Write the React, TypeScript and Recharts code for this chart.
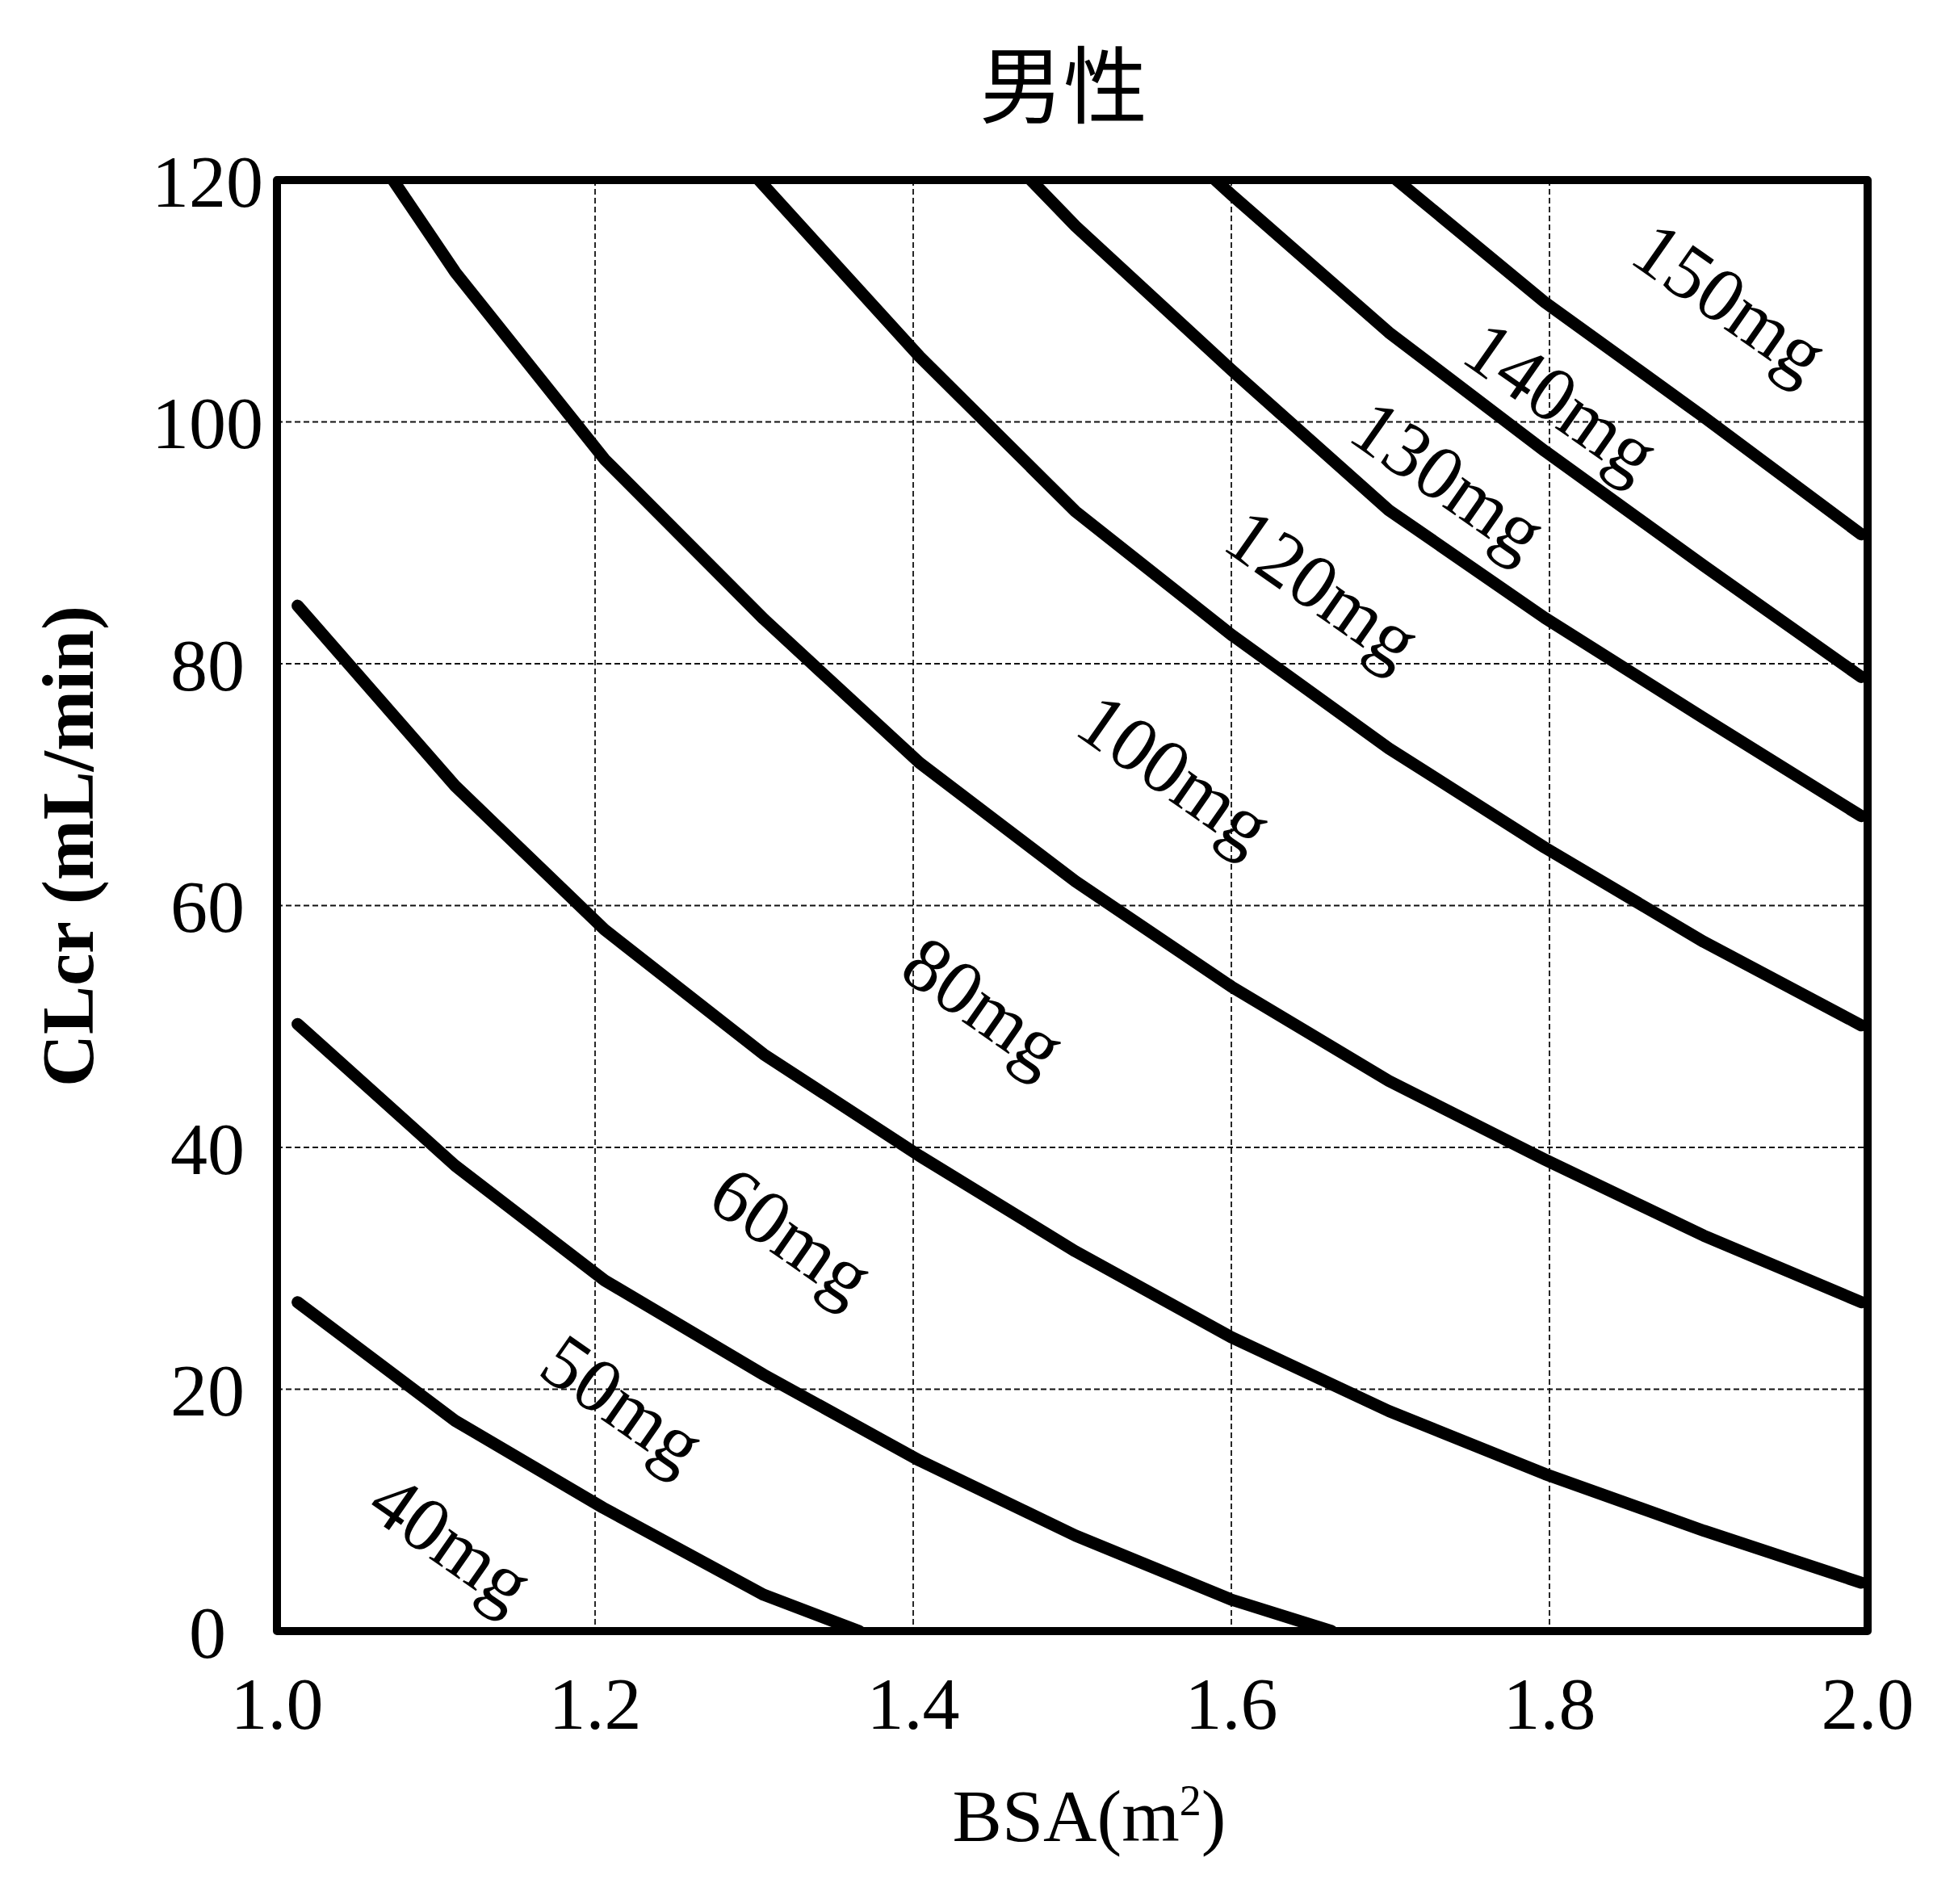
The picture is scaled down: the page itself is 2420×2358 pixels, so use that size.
import React from 'react';
import {
  ComposedChart,
  Line,
  Scatter,
  XAxis,
  YAxis,
  CartesianGrid,
  ReferenceArea,
} from 'recharts';

// ---- axis ticks ----
const bsaTicks = [1.0, 1.2, 1.4, 1.6, 1.8, 2.0];
const clcrTicks = [0, 20, 40, 60, 80, 100, 120];

// ---- dose boundary lines: [BSA (m2), CLcr (mL/min)] ----
const border40_50 = [[1.013, 27.2], [1.112, 17.4], [1.205, 10.2], [1.306, 3.0], [1.366, 0]];
const border50_60 = [[1.013, 50.2], [1.112, 38.5], [1.206, 29.0], [1.306, 21.2], [1.404, 14.1], [1.502, 7.9], [1.6, 2.6], [1.663, 0]];
const border60_80 = [[1.013, 84.8], [1.112, 69.9], [1.206, 58.0], [1.306, 47.7], [1.404, 39.3], [1.502, 31.4], [1.6, 24.3], [1.699, 18.2], [1.797, 13.0], [1.897, 8.3], [1.996, 4.0]];
const border80_100 = [[1.073, 120], [1.112, 112.4], [1.206, 96.9], [1.306, 83.7], [1.404, 71.8], [1.502, 62.0], [1.6, 53.3], [1.699, 45.5], [1.797, 39.0], [1.897, 32.7], [1.996, 27.2]];
const border100_120 = [[1.303, 120], [1.404, 105.4], [1.502, 92.6], [1.6, 82.4], [1.699, 73.0], [1.797, 64.8], [1.897, 57.0], [1.996, 50.1]];
const border120_130 = [[1.474, 120], [1.502, 116.2], [1.6, 104.3], [1.699, 92.7], [1.797, 83.8], [1.897, 75.5], [1.996, 67.4]];
const border130_140 = [[1.59, 120], [1.6, 118.8], [1.699, 107.4], [1.797, 97.6], [1.897, 88.1], [1.996, 78.9]];
const border140_150 = [[1.704, 120], [1.797, 109.9], [1.897, 100.4], [1.996, 90.7]];

// ---- dose region labels ----
const doseLabels = ['40mg', '50mg', '60mg', '80mg', '100mg', '120mg', '130mg', '140mg', '150mg'];
const labelBsa = [1.107, 1.215, 1.321, 1.442, 1.562, 1.655, 1.734, 1.805, 1.911];
const labelClcr = [6.9, 18.4, 32.3, 51.3, 70.5, 85.8, 94.8, 101.3, 109.5];

const toPoints = (arr: number[][]) => arr.map(([x, y]) => ({ x, y }));
const boundaries = [
  border40_50,
  border50_60,
  border60_80,
  border80_100,
  border100_120,
  border120_130,
  border130_140,
  border140_150,
].map(toPoints);
const labelData = doseLabels.map((text, i) => ({ x: labelBsa[i], y: labelClcr[i], text }));

const SERIF = '"Liberation Serif", "Times New Roman", serif';
const CJK = '"Noto Sans CJK JP", "Noto Sans CJK SC", sans-serif';

const DoseLabel = (props: any) => {
  const { cx, cy, payload } = props;
  if (cx == null || cy == null) return null;
  return (
    <text
      x={cx}
      y={cy}
      dy={-9}
      textAnchor="middle"
      dominantBaseline="central"
      fontFamily={SERIF}
      fontSize={96}
      fill="#000"
      transform={`rotate(35 ${cx} ${cy})`}
    >
      {payload.text}
    </text>
  );
};

const YTick = (props: any) => {
  const { x, y, payload } = props;
  return (
    <text x={x} y={y} dy="0.355em" textAnchor="middle" fontFamily={SERIF} fontSize={92} fill="#000">
      {payload.value}
    </text>
  );
};

const XLabel = () => (
  <text x={1349} y={2280} textAnchor="middle" fontFamily={SERIF} fontSize={92} fill="#000">
    BSA(m
    <tspan dy={-32} fontSize={54}>2</tspan>
    <tspan dy={32}>)</tspan>
  </text>
);

const YLabel = () => (
  <text
    x={115}
    y={1048}
    textAnchor="middle"
    fontFamily={SERIF}
    fontSize={90}
    fontWeight="bold"
    fill="#000"
    transform="rotate(-90 115 1048)"
  >
    CLcr (mL/min)
  </text>
);

export default function App() {
  return (
    <div style={{ position: 'absolute', left: 0, top: 0, width: 2420, height: 2358, background: '#fff' }}>
      <svg width={2420} height={220} style={{ position: 'absolute', left: 0, top: 0 }}>
        <text x={1317} y={145} textAnchor="middle" fontFamily={CJK} fontSize={104} fill="#000">
          男性
        </text>
      </svg>
      <ComposedChart
        width={2420}
        height={2358}
        margin={{ top: 223, right: 107, bottom: 188, left: 143 }}
        style={{ position: 'absolute', left: 0, top: 0 }}
      >
        <CartesianGrid stroke="#111" strokeWidth={1.8} strokeDasharray="7 4" />
        <XAxis
          dataKey="x"
          type="number"
          domain={[1, 2]}
          ticks={bsaTicks}
          interval={0}
          allowDataOverflow
          height={150}
          axisLine={false}
          tickLine={false}
          tickSize={0}
          tickMargin={56}
          tickFormatter={(v: number) => v.toFixed(1)}
          tick={{ fontSize: 92, fontFamily: SERIF, fill: '#000' }}
          label={XLabel}
        />
        <YAxis
          dataKey="y"
          type="number"
          domain={[0, 120]}
          ticks={clcrTicks}
          interval={0}
          allowDataOverflow
          width={200}
          axisLine={false}
          tickLine={false}
          tickSize={0}
          tickMargin={86}
          tick={YTick}
          label={YLabel}
        />
        {boundaries.map((pts, i) => (
          <Line
            key={i}
            data={pts}
            dataKey="y"
            type="linear"
            stroke="#000"
            strokeWidth={15}
            strokeLinecap="round"
            strokeLinejoin="round"
            dot={false}
            activeDot={false}
            isAnimationActive={false}
          />
        ))}
        <Scatter data={labelData} dataKey="y" shape={DoseLabel} isAnimationActive={false} />
        <ReferenceArea
          x1={1}
          x2={2}
          y1={0}
          y2={120}
          fill="none"
          fillOpacity={0}
          stroke="#000"
          strokeWidth={10}
          strokeOpacity={1}
          strokeLinejoin="round"
        />
      </ComposedChart>
    </div>
  );
}
